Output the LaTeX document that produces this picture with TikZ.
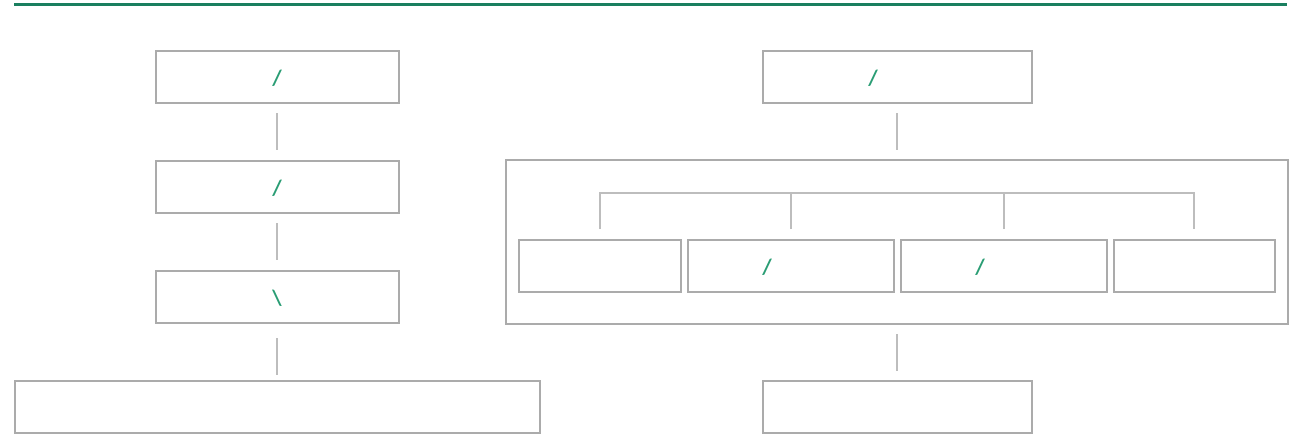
\documentclass[tikz,border=0pt]{standalone}
\usepackage{fontspec}
\setmainfont{Carlito}
\definecolor{topline}{HTML}{1A7F5F}
\definecolor{boxline}{HTML}{ABABAB}
\definecolor{conline}{HTML}{BDBDBD}
\definecolor{slashc}{HTML}{2A9D74}
\begin{document}
\begin{tikzpicture}[x=1pt,y=-1pt,
  bx/.style={draw=boxline,line width=1.1pt,inner sep=0pt},
  con/.style={draw=conline,line width=1.2pt},
  sl/.style={text=slashc,font=\fontsize{22}{24}\selectfont\bfseries,inner sep=0pt}]
\useasboundingbox (0,0) rectangle (1307,439);
\draw[topline,line width=3pt] (14,4) -- (1287,4);
% left column
\node[bx,minimum width=243pt,minimum height=52pt] (l1) at (277.5,77) {};
\node[bx,minimum width=243pt,minimum height=52pt] (l2) at (277.5,187) {};
\node[bx,minimum width=243pt,minimum height=52pt] (l3) at (277.5,297) {};
\node[bx,minimum width=525pt,minimum height=52pt] (l4) at (277.5,407) {};
\node[sl] (t1) at (277,78) {/};
\node[sl] (t2) at (277,188) {/};
\node[sl] (t3) at (277,298) {\textbackslash};
\coordinate (c1a) at (277,113); \coordinate (c1b) at (277,150);
\coordinate (c2a) at (277,223); \coordinate (c2b) at (277,260);
\coordinate (c3a) at (277,338); \coordinate (c3b) at (277,375);
\draw[con] (c1a) -- (c1b);
\draw[con] (c2a) -- (c2b);
\draw[con] (c3a) -- (c3b);
% right column
\node[bx,minimum width=269pt,minimum height=52pt] (r1) at (897.5,77) {};
\node[sl] (t4) at (873,78) {/};
\node[bx,minimum width=782pt,minimum height=164pt] (cont) at (897,242) {};
\node[bx,minimum width=162pt,minimum height=52pt] (ia) at (600,266) {};
\node[bx,minimum width=206pt,minimum height=52pt] (ib) at (791,266) {};
\node[bx,minimum width=206pt,minimum height=52pt] (ic) at (1004,266) {};
\node[bx,minimum width=161pt,minimum height=52pt] (id) at (1194.5,266) {};
\node[sl] (t5) at (767,267) {/};
\node[sl] (t6) at (980,267) {/};
\node[bx,minimum width=269pt,minimum height=52pt] (r2) at (897.5,407) {};
\coordinate (c4a) at (897,113); \coordinate (c4b) at (897,150);
\coordinate (c5a) at (897,334); \coordinate (c5b) at (897,371);
\draw[con] (c4a) -- (c4b);
\draw[con] (c5a) -- (c5b);
\coordinate (ba) at (600,229); \coordinate (bb) at (791,229);
\coordinate (bc) at (1004,229); \coordinate (bd) at (1194,229);
\draw[con] (ba) -- (600,193) -- (1194,193) -- (bd);
\draw[con] (bb) -- (791,193);
\draw[con] (bc) -- (1004,193);
\end{tikzpicture}
\end{document}
